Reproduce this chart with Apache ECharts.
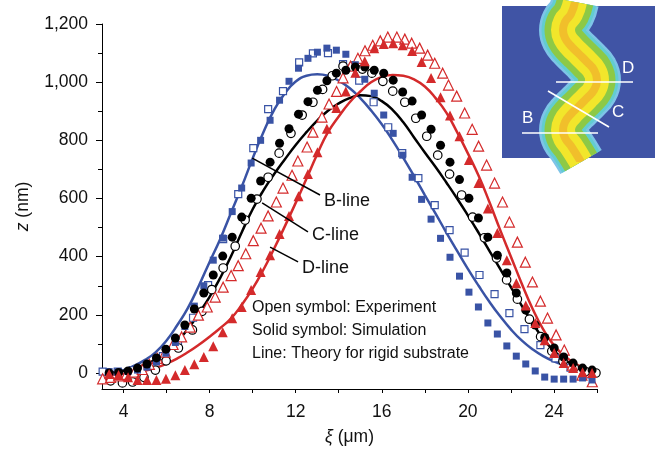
<!DOCTYPE html>
<html>
<head>
<meta charset="utf-8">
<script src="https://cdn.jsdelivr.net/npm/echarts@6.0.0/dist/echarts.min.js"></script>
<style>
  html, body { margin: 0; padding: 0; background: #fff; }
  #chart { width: 661px; height: 453px; }
</style>
</head>
<body>
<div id="chart"></div>
<script>
// axis ticks
const xTicks = [4, 6, 8, 10, 12, 14, 16, 18, 20, 22, 24, 26];
const xLabels = [4, 8, 12, 16, 20, 24];
const yLabels = [0, 200, 400, 600, 800, 1000, 1200];
const yMinor = [100, 300, 500, 700, 900, 1100];

// theory for rigid substrate (lines)
const theoryX = [3, 3.5, 4, 4.5, 5, 5.5, 6, 6.5, 7, 7.5, 8, 8.5, 9, 9.5, 10, 10.5, 11, 11.5, 12, 12.5, 13, 13.5,
  14, 14.5, 15, 15.5, 16, 16.5, 17, 17.5, 18, 18.5, 19, 19.5, 20, 20.5, 21, 21.5, 22, 22.5, 23, 23.5, 24, 24.5, 25, 25.5, 26];
const bTheory = [0, 3, 10, 25, 45, 72, 112, 165, 225, 300, 382, 462, 552, 642, 738, 828, 905, 962, 1002, 1022, 1027, 1022,
  1005, 980, 945, 903, 855, 800, 740, 677, 612, 548, 483, 420, 358, 300, 245, 195, 150, 112, 82, 58, 40, 27, 17, 9, 3];
const cTheory = [0, 2, 7, 16, 29, 47, 72, 108, 152, 205, 262, 328, 402, 485, 563, 628, 684, 735, 784, 828, 868, 902,
  927, 945, 955, 952, 935, 905, 862, 810, 758, 708, 655, 600, 542, 482, 420, 358, 295, 232, 172, 118, 76, 45, 25, 13, 6];
const dTheory = [-8, -6, -3, 1, 8, 18, 32, 50, 72, 97, 125, 155, 188, 235, 290, 355, 428, 505, 585, 668, 752, 828,
  882, 930, 968, 1000, 1018, 1025, 1022, 1010, 985, 945, 895, 828, 755, 678, 588, 492, 400, 308, 222, 150, 95, 58, 32, 14, 4];

// simulation (solid symbols)
const simX = [3.33, 3.77, 4.21, 4.65, 5.09, 5.53, 5.97, 6.41, 6.85, 7.29, 7.73, 8.17, 8.61, 9.05, 9.49, 9.93, 10.37,
  10.81, 11.25, 11.69, 12.13, 12.57, 13.01, 13.45, 13.89, 14.33, 14.77, 15.21, 15.65, 16.09, 16.53, 16.97, 17.41,
  17.85, 18.29, 18.73, 19.17, 19.61, 20.05, 20.49, 20.93, 21.37, 21.81, 22.25, 22.69, 23.13, 23.57, 24.01, 24.45,
  24.89, 25.33, 25.77];
const bSim = [5, 5, 5, 10, 20, 38, 68, 105, 160, 230, 300, 388, 464, 555, 636, 722, 800, 869, 938, 1003, 1048, 1082,
  1103, 1117, 1110, 1096, 1060, 1010, 962, 887, 824, 749, 673, 597, 529, 463, 398, 333, 278, 227, 172, 134, 93, 58,
  31, 7, -14, -21, -21, -21, -17, -24];
const cSim = [0, 2, 7, 17, 31, 52, 82, 120, 165, 220, 275, 337, 402, 467, 536, 601, 660, 725, 790, 840, 890, 933,
  972, 1005, 1031, 1041, 1052, 1052, 1041, 1031, 1007, 966, 935, 887, 838, 783, 725, 665, 601, 533, 467, 405, 344,
  275, 216, 165, 122, 86, 55, 34, 17, 10];
const dSim = [-3, -7, -15, -24, -24, -24, -20, -8, 10, 30, 55, 92, 140, 188, 227, 285, 347, 405, 478, 540, 608, 684,
  759, 840, 911, 968, 1032, 1072, 1117, 1131, 1134, 1127, 1107, 1069, 1014, 948, 885, 814, 732, 653, 566, 481, 388,
  309, 232, 172, 113, 69, 34, 17, 3, 0];

// experiment (open symbols)
const bExpX = [3.03, 3.73, 4.43, 5.13, 5.83, 6.53, 7.23, 7.93, 8.63, 9.33, 10.03, 10.72, 11.41, 12.16, 12.8, 13.5,
  14.2, 14.95, 15.62, 16.3, 16.95, 17.7, 18.46, 19.15, 19.85, 20.54, 21.24, 21.93, 22.63, 23.37, 24.07, 24.77, 25.5];
const bExp = [5, 5, 10, 25, 58, 110, 190, 302, 460, 615, 773, 907, 969, 1068, 1099, 1100, 1062, 1005, 931, 845, 756,
  670, 577, 491, 414, 337, 271, 206, 151, 96, 50, 18, -5];
const cExpX = [3.4, 3.95, 4.42, 4.95, 5.48, 5.98, 6.55, 7.2, 7.65, 8.1, 8.63, 9.19, 9.65, 10.2, 10.72, 11.23, 11.78,
  12.3, 12.8, 13.25, 13.7, 14.2, 14.66, 15.1, 15.54, 16.05, 16.51, 17.07, 17.58, 18.09, 18.6, 19.15, 19.71, 20.22,
  20.77, 21.33, 21.8, 22.3, 22.86, 23.38, 23.9, 24.42, 24.94, 25.46, 25.95];
const cExp = [-27, -34, -31, -15, 10, 42, 86, 148, 212, 287, 361, 436, 526, 598, 673, 756, 824, 887, 931, 975, 1022,
  1055, 1055, 1045, 1031, 1003, 969, 931, 876, 814, 749, 684, 612, 536, 465, 395, 320, 254, 185, 125, 75, 40, 18, 5, 0];
const dExpX = [3.03, 3.4, 3.77, 4.13, 4.5, 4.87, 5.2, 5.57, 5.94, 6.3, 6.7, 7.1, 7.48, 7.89, 8.26, 8.63, 9.0, 9.33,
  9.68, 10.03, 10.39, 10.72, 11.1, 11.41, 11.83, 12.1, 12.53, 12.8, 13.22, 13.55, 13.9, 14.2, 14.55, 14.89, 15.22,
  15.58, 15.93, 16.28, 16.7, 17.07, 17.39, 17.76, 18.13, 18.46, 18.83, 19.1, 19.48, 19.85, 20.2, 20.5, 20.87, 21.24,
  21.61, 21.93, 22.3, 22.67, 23.0, 23.37, 23.7, 24.1, 24.48, 24.85, 25.3, 25.78];
const dExp = [-20, -15, -10, -5, 3, 12, 30, 50, 72, 98, 124, 158, 199, 227, 261, 295, 335, 369, 410, 455, 498, 540,
  588, 636, 680, 729, 777, 828, 880, 925, 968, 1015, 1055, 1082, 1108, 1127, 1142, 1155, 1155, 1148, 1134, 1117, 1093,
  1065, 1031, 990, 952, 894, 838, 780, 715, 653, 588, 519, 450, 381, 313, 247, 189, 131, 79, 27, -7, -30];

// leader lines for the B/C/D labels (data coords)
const leaderB = [[9.98, 739], [13.13, 612]];
const leaderC = [[10.44, 585], [12.57, 485]];
const leaderD = [[10.81, 433], [12.11, 382]];

// inset: wavy stripe centre and the three cut lines (inset pixel coords)
const insetWave = [[73, -4], [69, 8], [63, 16], [61, 24], [63, 32], [69, 40], [77, 48], [85, 56], [92, 64], [95, 74],
  [92, 84], [85, 92], [77, 100], [69, 108], [63, 116], [61, 124], [63, 132], [69, 140], [79, 156]];
const cutB = [[20, 127], [96, 127]];
const cutC = [[46, 85], [107, 121]];
const cutD = [[54, 76], [131, 76]];

const BLUE = "#3953a5";
const RED = "#d42a2b";
const BLACK = "#000000";
const FONT = "Liberation Sans, Arial, sans-serif";

const zip = (xs, ys) => xs.map((x, i) => [x, ys[i]]);

let chart = echarts.init(document.getElementById("chart"), null, { renderer: "canvas" });

function theory(name, ys, color) {
  return {
    name: name,
    type: "line",
    data: zip(theoryX, ys),
    smooth: true,
    showSymbol: false,
    silent: true,
    lineStyle: { color: color, width: 2.5 },
    z: 2
  };
}

function points(name, data, symbol, size, color, open) {
  return {
    name: name,
    type: "scatter",
    data: data,
    symbol: symbol,
    symbolSize: size,
    itemStyle: open
      ? { color: "#ffffff", borderColor: color, borderWidth: 1.2, opacity: 1 }
      : { color: color, borderWidth: 0, opacity: 1 },
    z: open ? 3 : 4
  };
}

function leader(data, text, offset) {
  return {
    type: "line",
    data: data,
    showSymbol: false,
    symbol: "none",
    silent: true,
    lineStyle: { color: BLACK, width: 1.5 },
    endLabel: {
      show: true,
      formatter: text,
      distance: 4,
      offset: offset,
      color: "#111",
      fontSize: 18,
      fontFamily: FONT
    },
    z: 5
  };
}

function band(width, color, opacity) {
  return {
    type: "line",
    xAxisIndex: 1,
    yAxisIndex: 2,
    data: insetWave,
    smooth: true,
    showSymbol: false,
    symbol: "none",
    silent: true,
    clip: true,
    lineStyle: { color: color, width: width, opacity: opacity },
    z: 6
  };
}

function cut(data) {
  return {
    type: "line",
    xAxisIndex: 1,
    yAxisIndex: 2,
    data: data,
    showSymbol: false,
    symbol: "none",
    silent: true,
    lineStyle: { color: "#ffffff", width: 1.6 },
    z: 7
  };
}

function insetText(text, x, y) {
  return {
    type: "text",
    left: x,
    top: y,
    z: 20,
    style: { text: text, font: "17px " + FONT, fill: "#ffffff" }
  };
}

chart.setOption({
  animation: false,
  backgroundColor: "#ffffff",
  textStyle: { fontFamily: FONT },
  grid: [
    { left: 102, right: 64, top: 24, bottom: 64, containLabel: false, outerBoundsMode: "none" },
    {
      left: 502, top: 6, width: 153, height: 152,
      show: true, backgroundColor: "#4054a5", borderWidth: 0, outerBoundsMode: "none"
    }
  ],
  xAxis: [
    {
      type: "value",
      gridIndex: 0,
      min: 3,
      max: 26,
      name: "{i|ξ} (μm)",
      nameLocation: "middle",
      nameGap: 39,
      nameTextStyle: {
        color: "#111",
        fontSize: 17.5,
        fontFamily: FONT,
        rich: { i: { fontStyle: "italic", fontSize: 17.5, fontFamily: FONT, color: "#111" } }
      },
      axisLine: { show: true, onZero: false, lineStyle: { color: BLACK, width: 1 } },
      axisTick: { show: true, inside: false, length: 4, customValues: xTicks, lineStyle: { color: BLACK } },
      axisLabel: { customValues: xLabels, margin: 14, color: "#111", fontSize: 17.5, fontFamily: FONT },
      splitLine: { show: false }
    },
    { type: "value", gridIndex: 1, min: 0, max: 153, show: false }
  ],
  yAxis: [
    {
      type: "value",
      gridIndex: 0,
      min: -55,
      max: 1200,
      name: "{i|z} (nm)",
      nameLocation: "middle",
      nameGap: 70,
      nameTextStyle: {
        color: "#111",
        fontSize: 17.5,
        fontFamily: FONT,
        rich: { i: { fontStyle: "italic", fontSize: 17.5, fontFamily: FONT, color: "#111" } }
      },
      axisLine: { show: true, onZero: false, lineStyle: { color: BLACK, width: 1 } },
      axisTick: { show: true, inside: false, length: 6, customValues: yLabels, lineStyle: { color: BLACK } },
      axisLabel: {
        customValues: yLabels,
        margin: 14,
        color: "#111",
        fontSize: 17.5,
        fontFamily: FONT,
        formatter: v => v.toLocaleString("en-US")
      },
      splitLine: { show: false }
    },
    {
      // minor ticks only
      type: "value",
      gridIndex: 0,
      position: "left",
      min: -55,
      max: 1200,
      axisLine: { show: false },
      axisTick: { show: true, inside: false, length: 4, customValues: yMinor, lineStyle: { color: BLACK } },
      axisLabel: { show: false },
      splitLine: { show: false }
    },
    { type: "value", gridIndex: 1, min: 0, max: 152, inverse: true, show: false }
  ],
  graphic: [
    { type: "text", left: 252, top: 300, style: { text: "Open symbol: Experiment", font: "16px " + FONT, fill: "#111" } },
    { type: "text", left: 252, top: 323, style: { text: "Solid symbol: Simulation", font: "16px " + FONT, fill: "#111" } },
    { type: "text", left: 252, top: 346, style: { text: "Line: Theory for rigid substrate", font: "16px " + FONT, fill: "#111" } },
    insetText("D", 622, 60),
    insetText("C", 612, 104),
    insetText("B", 522, 110)
  ],
  series: [
    theory("B theory", bTheory, BLUE),
    theory("C theory", cTheory, BLACK),
    theory("D theory", dTheory, RED),
    leader(leaderB, "B-line", [0, 6]),
    leader(leaderC, "C-line", [0, 3]),
    leader(leaderD, "D-line", [0, 6]),
    points("B experiment", zip(bExpX, bExp), "rect", 7, BLUE, true),
    points("C experiment", zip(cExpX, cExp), "circle", 8.5, BLACK, true),
    points("D experiment", zip(dExpX, dExp), "triangle", 10, RED, true),
    points("B simulation", zip(simX, bSim), "rect", 7, BLUE, false),
    points("C simulation", zip(simX, cSim), "circle", 9, BLACK, false),
    points("D simulation", zip(simX, dSim), "triangle", 10, RED, false),
    // inset picture
    band(48, "#7ec4e8", 1),
    band(43, "#62cdd0", 1),
    band(37, "#8dc946", 1),
    band(24, "#f2e62b", 1),
    band(8, "#f0982c", 0.5),
    cut(cutB),
    cut(cutC),
    cut(cutD)
  ]
});
</script>
</body>
</html>
